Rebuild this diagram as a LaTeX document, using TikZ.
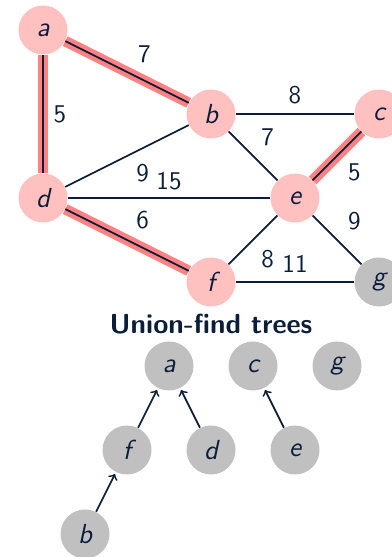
\documentclass[tikz,border=0pt]{standalone}
\usepackage{fontspec}
\usetikzlibrary{calc}
\definecolor{navy}{HTML}{0C1D3A}
\definecolor{nodepink}{HTML}{FFC0C0}
\definecolor{hlred}{HTML}{FF8282}
\definecolor{nodegray}{HTML}{C0C0C0}
\begin{document}
\begin{tikzpicture}[x=1.5cm,y=1.5cm,
  font=\sffamily\fontsize{13}{15}\selectfont,
  every node/.style={text=navy},
  vert/.style={circle,fill=nodepink,minimum size=0.875cm,inner sep=0pt,font=\sffamily\itshape\fontsize{14}{16}\selectfont},
  gvert/.style={vert,fill=nodegray},
  edge/.style={draw=navy,line width=0.9pt},
  hl/.style={draw=hlred,line width=5.4pt},
  wt/.style={inner sep=0pt},
  parent/.style={draw=navy,line width=0.9pt,->,shorten >=1pt}
]
\useasboundingbox (-0.512,0.357) rectangle (4.143,-6.274);
% graph nodes
\node[vert] (a) at (0,0) {a};
\node[vert] (b) at (2,-1) {b};
\node[vert] (c) at (4,-1) {c};
\node[vert] (d) at (0,-2) {d};
\node[vert] (e) at (3,-2) {e};
\node[vert] (f) at (2,-3) {f};
\node[gvert] (g) at (4,-3) {g};
% highlighted MST edges
\draw[hl] (a) -- (b);
\draw[hl] (a) -- (d);
\draw[hl] (c) -- (e);
\draw[hl] (d) -- (f);
% edges with weights
\draw[edge] (a) -- (b) node[midway,wt,xshift=0.31cm,yshift=0.32cm] {7};
\draw[edge] (a) -- (d) node[midway,wt,xshift=0.30cm] {5};
\draw[edge] (b) -- (c) node[midway,wt,yshift=0.34cm] {8};
\draw[edge] (b) -- (e) node[midway,wt,xshift=0.26cm,yshift=0.34cm] {7};
\draw[edge] (d) -- (b) node[midway,wt,xshift=0.28cm,yshift=-0.30cm] {9};
\draw[edge] (d) -- (e) node[midway,wt,yshift=0.30cm] {15};
\draw[edge] (d) -- (f) node[midway,wt,xshift=0.28cm,yshift=0.35cm] {6};
\draw[edge] (c) -- (e) node[midway,wt,xshift=0.31cm,yshift=-0.30cm] {5};
\draw[edge] (e) -- (g) node[midway,wt,xshift=0.31cm,yshift=0.33cm] {9};
\draw[edge] (e) -- (f) node[midway,wt,xshift=0.26cm,yshift=-0.35cm] {8};
\draw[edge] (f) -- (g) node[midway,wt,yshift=0.32cm] {11};
% union-find trees
\node[font=\sffamily\bfseries\fontsize{14}{16}\selectfont] (title) at (2,-3.5) {Union-find trees};
\node[gvert] (ta) at (1.5,-4) {a};
\node[gvert] (tc) at (2.5,-4) {c};
\node[gvert] (tg) at (3.5,-4) {g};
\node[gvert] (tf) at (1,-5) {f};
\node[gvert] (td) at (2,-5) {d};
\node[gvert] (te) at (3,-5) {e};
\node[gvert] (tb) at (0.5,-6) {b};
\draw[parent] (tf) -- (ta);
\draw[parent] (td) -- (ta);
\draw[parent] (te) -- (tc);
\draw[parent] (tb) -- (tf);
\end{tikzpicture}
\end{document}
